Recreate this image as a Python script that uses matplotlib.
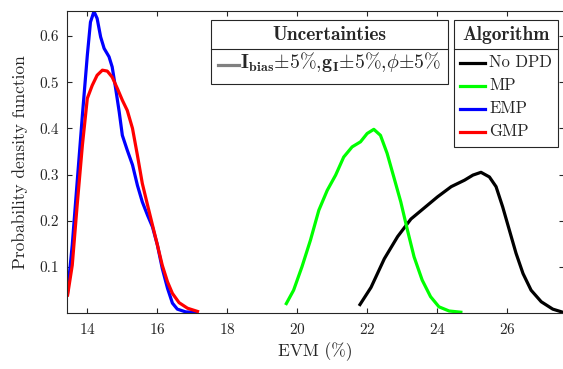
import numpy as np
import matplotlib
matplotlib.use("Agg")
import matplotlib.pyplot as plt
from matplotlib.patches import Rectangle
from matplotlib.lines import Line2D

plt.rcParams['font.family'] = 'serif'
plt.rcParams['font.serif'] = ['cmr10']
plt.rcParams['mathtext.fontset'] = 'cm'
plt.rcParams['axes.formatter.use_mathtext'] = True

# EVM (%) vs probability density
nodpd_x = [21.77, 22.11, 22.49, 22.87, 23.25, 23.63, 24.01, 24.40, 24.78, 25.02, 25.25,
           25.49, 25.68, 25.87, 26.06, 26.25, 26.45, 26.68, 26.97, 27.30, 27.64]
nodpd_y = [0.016, 0.056, 0.118, 0.166, 0.204, 0.228, 0.252, 0.274, 0.288, 0.299, 0.305,
           0.295, 0.274, 0.230, 0.180, 0.130, 0.086, 0.050, 0.025, 0.009, 0.001]

mp_x = [19.67, 19.90, 20.14, 20.38, 20.62, 20.86, 21.10, 21.33, 21.57, 21.81, 22.00,
        22.19, 22.38, 22.57, 22.76, 22.96, 23.15, 23.34, 23.57, 23.81, 24.05, 24.34, 24.72]
mp_y = [0.018, 0.050, 0.101, 0.158, 0.223, 0.266, 0.299, 0.338, 0.360, 0.371, 0.389,
        0.398, 0.385, 0.346, 0.295, 0.241, 0.180, 0.122, 0.072, 0.036, 0.014, 0.005, 0.002]

emp_x = [13.44, 13.58, 13.72, 13.87, 14.01, 14.10, 14.20, 14.29, 14.39, 14.49, 14.63,
         14.72, 14.82, 14.92, 15.01, 15.15, 15.30, 15.44, 15.58, 15.73, 15.87, 16.01,
         16.15, 16.30, 16.44, 16.58, 16.82, 17.16]
emp_y = [0.040, 0.148, 0.284, 0.429, 0.558, 0.630, 0.653, 0.638, 0.598, 0.573, 0.555,
         0.533, 0.486, 0.436, 0.385, 0.353, 0.321, 0.277, 0.241, 0.212, 0.187, 0.148,
         0.097, 0.054, 0.022, 0.009, 0.003, 0.002]

gmp_x = [13.44, 13.58, 13.72, 13.87, 14.01, 14.15, 14.29, 14.44, 14.58, 14.72, 14.87,
         15.01, 15.15, 15.30, 15.44, 15.58, 15.73, 15.87, 16.01, 16.15, 16.30, 16.44,
         16.63, 16.87, 17.20]
gmp_y = [0.036, 0.104, 0.234, 0.364, 0.465, 0.493, 0.515, 0.526, 0.524, 0.511, 0.486,
         0.461, 0.439, 0.400, 0.342, 0.281, 0.234, 0.191, 0.148, 0.104, 0.068, 0.043,
         0.023, 0.011, 0.003]

algorithms = ['No DPD', 'MP', 'EMP', 'GMP']
colors = ['black', '#00ff00', '#0000ff', '#ff0000']
series = [(nodpd_x, nodpd_y), (mp_x, mp_y), (emp_x, emp_y), (gmp_x, gmp_y)]

W, H = 563, 369
fig = plt.figure(figsize=(W / 100, H / 100), dpi=100)
ax = fig.add_axes([67 / W, 1 - 313.3 / H, (564 - 67) / W, (313.3 - 11) / H])

for (xs, ys), c in zip(series, colors):
    ax.plot(xs, ys, color=c, lw=2.3, solid_capstyle='butt', solid_joinstyle='round')

ax.set_xlim(13.43, 27.62)
ax.set_ylim(0, 0.654)
ax.set_xticks([14, 16, 18, 20, 22, 24, 26])
ax.set_yticks([0.1, 0.2, 0.3, 0.4, 0.5, 0.6])
ax.set_yticklabels(['0.1', '0.2', '0.3', '0.4', '0.5', '0.6'])
ax.tick_params(direction='in', length=3.5, width=0.8, top=True, right=True,
               labelsize=11, colors='#262626', pad=6)
for s in ax.spines.values():
    s.set_color('#262626')
    s.set_linewidth(0.8)
ax.set_xlabel('EVM (%)', fontsize=12.5, color='#262626', labelpad=4)
ax.set_ylabel('Probability density function', fontsize=12.5, color='#262626', labelpad=8)


def px(x, y):
    return x / W, 1 - y / H


def box(x0, y0, x1, y1):
    fig.add_artist(Rectangle(px(x0, y1), (x1 - x0) / W, (y1 - y0) / H,
                             transform=fig.transFigure, facecolor='white',
                             edgecolor='#262626', lw=0.8))


def hline(x0, x1, y, color, lw=0.8):
    (a, b), (c, d) = px(x0, y), px(x1, y)
    fig.add_artist(Line2D([a, c], [b, d], transform=fig.transFigure, color=color, lw=lw))


# Uncertainties legend
box(211, 20.5, 448, 83.5)
hline(211, 448, 49.3, '#262626')
fig.text(*px(329.5, 35), 'Uncertainties', family='cmb10', fontsize=14,
         ha='center', va='center', color='#262626')
hline(217.5, 238.5, 65, '#808080', lw=2.3)
fig.text(*px(240, 62),
         r'$\mathbf{I_{bias}{\pm}5\%{,}g_I{\pm}5\%{,}}\phi\mathbf{{\pm}5\%}$',
         fontsize=14.3, ha='left', va='center', color='#262626')

# Algorithm legend
box(454, 20.5, 558, 146.7)
hline(454, 558, 49.3, '#262626')
fig.text(*px(506, 35), 'Algorithm', family='cmb10', fontsize=14,
         ha='center', va='center', color='#262626')
for i, (name, c) in enumerate(zip(algorithms, colors)):
    yy = 62.7 + i * 23
    hline(460, 485, yy, c, lw=2.3)
    fig.text(*px(489, yy), name, fontsize=12, ha='left', va='center', color='#262626')

fig.savefig('out.png', dpi=100)
